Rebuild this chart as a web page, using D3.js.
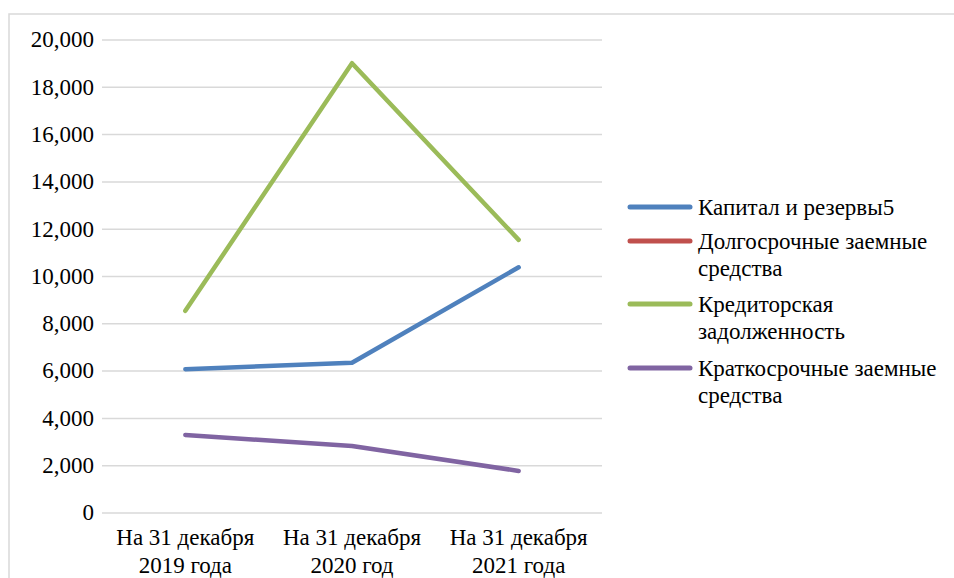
<!DOCTYPE html>
<html><head><meta charset="utf-8"><script src="https://cdn.jsdelivr.net/npm/d3@7"></script></head>
<body style="margin:0">
<svg id="fig" width="954" height="578"></svg>
<script>
const categories = [["На 31 декабря", "2019 года"], ["На 31 декабря", "2020 год"], ["На 31 декабря", "2021 года"]];
const seriesNames = [["Капитал и резервы5"], ["Долгосрочные заемные", "средства"], ["Кредиторская", "задолженность"], ["Краткосрочные заемные", "средства"]];
const capital = [6080, 6350, 10390];
const longTerm = [null, null, null];
const payables = [8550, 19020, 11550];
const shortTerm = [3300, 2830, 1780];
const colors = ["#4f81bd", "#c0504d", "#9bbb59", "#8064a2"];
const yTicks = [0, 2000, 4000, 6000, 8000, 10000, 12000, 14000, 16000, 18000, 20000];

(function () {
const allSeries = [capital, longTerm, payables, shortTerm];
const svg = d3.select("#fig");
const fs = 23;
const setFont = sel => sel.style("font-family", '"Liberation Serif"').attr("font-size", fs);

// outer border
svg.append("rect").attr("x", 9).attr("y", 14).attr("width", 960).attr("height", 600)
  .attr("fill", "none").attr("stroke", "#d9d9d9").attr("stroke-width", 1.5);

const pl = 102, pr = 602, pt = 40, pb = 513;
const x = d3.scaleBand().domain(d3.range(categories.length)).range([pl, pr]);
const y = d3.scaleLinear().domain([0, 20000]).range([pb, pt]);

// gridlines
svg.append("g").selectAll("line").data(yTicks).join("line")
  .attr("x1", pl).attr("x2", pr)
  .attr("y1", d => y(d)).attr("y2", d => y(d))
  .attr("stroke", "#d9d9d9").attr("stroke-width", 1.5);

// y axis labels, positioned by the scale
const fmt = d3.format(",");
yTicks.forEach(v => {
  setFont(svg.append("text")).attr("text-anchor", "end")
    .attr("x", 94).attr("y", y(v)).attr("dy", "0.32em").text(fmt(v));
});

// x axis labels
categories.forEach((lines, i) => {
  const cx = x(i) + x.bandwidth() / 2;
  lines.forEach((ln, j) => {
    setFont(svg.append("text")).attr("text-anchor", "middle")
      .attr("x", cx).attr("y", 545 + j * 28).text(ln);
  });
});

// lines
const line = d3.line().defined(d => d.v != null)
  .x(d => x(d.i) + x.bandwidth() / 2).y(d => y(d.v));
allSeries.forEach((s, k) => {
  svg.append("path").datum(s.map((v, i) => ({ i, v })))
    .attr("d", line).attr("fill", "none").attr("stroke", colors[k])
    .attr("stroke-width", 4.5).attr("stroke-linejoin", "round").attr("stroke-linecap", "round");
});

// legend
const legY = [207, 241, 304, 368];
seriesNames.forEach((lines, k) => {
  svg.append("line").attr("x1", 630).attr("x2", 690).attr("y1", legY[k]).attr("y2", legY[k])
    .attr("stroke", colors[k]).attr("stroke-width", 5).attr("stroke-linecap", "round");
  lines.forEach((ln, j) => {
    setFont(svg.append("text")).attr("x", 698).attr("y", legY[k] + 8 + j * 27).text(ln);
  });
});
})();
</script>
</body>
</html>
